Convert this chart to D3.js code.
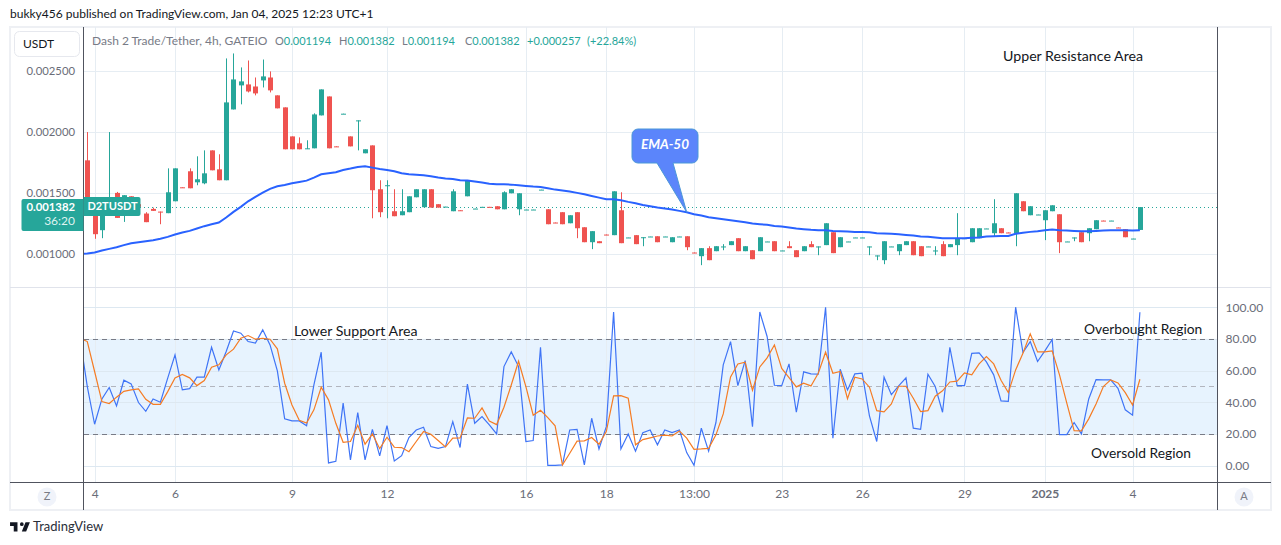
<!DOCTYPE html>
<html>
<head>
<meta charset="utf-8">
<script src="https://cdn.jsdelivr.net/npm/d3@7"></script>
<style>
  body { margin: 0; background: #fff; }
  svg { display: block; font-family: Lato, sans-serif; }
  .axis .domain, .axis line { display: none; }
  .axis text { fill: #6a6d78; font-size: 12px; font-family: Lato, sans-serif; }
</style>
</head>
<body>
<div id="chart"></div>
<script>
// prices are in millionths of a USDT (1382 = 0.001382)
var candleOpen = [
  1767,1452,1192,1370,1499,1384,1471,1406,1329,1367,
  1345,1332,1430,1545,1677,1586,1578,1849,1693,1603,
  2186,2384,2392,2375,2425,2449,2302,2203,1964,1907,
  1860,1866,2137,2293,1882,2148,1964,2091,1825,1890,
  1529,1560,1348,1315,1340,1463,1381,1529,1406,1384,
  1348,1356,1471,1368,1382,1384,1389,1364,1496,1364,
  1360,1360,1524,1364,1255,1340,1249,1340,1216,1093,
  1101,1156,1151,1356,1130,1151,1132,1138,1142,1138,
  1093,1138,1142,1008,978,1044,1019,1056,1069,1126,
  1019,1027,1019,1097,1101,1023,1060,1027,1019,1077,
  1056,1069,1175,1052,1097,1130,1130,1056,982,945,
  1056,1019,1069,1101,1060,1056,1023,1077,1052,1069,
  1124,1093,1126,1204,1167,1208,1173,1167,1430,1315,
  1319,1274,1348,1323,1097,1130,1175,1167,1200,1271,
  1269,1214,1200,1121,1194];
var candleHigh = [
  2000,1452,1411,2000,1507,1480,1471,1406,1340,1378,
  1345,1701,1701,1545,1701,1800,1849,1849,1817,2606,
  2647,2532,2589,2449,2597,2499,2302,2203,1964,1956,
  1932,2154,2351,2293,1882,2151,1964,2096,1858,1890,
  1603,1603,1529,1529,1471,1529,1529,1529,1406,1386,
  1529,1356,1603,1370,1384,1384,1389,1512,1529,1496,
  1362,1362,1526,1364,1255,1340,1315,1340,1216,1184,
  1101,1156,1512,1504,1132,1151,1134,1140,1142,1140,
  1134,1140,1142,1008,1044,1060,1060,1077,1101,1126,
  1060,1027,1134,1099,1101,1025,1101,1027,1060,1101,
  1058,1249,1175,1134,1099,1132,1132,1058,984,1101,
  1058,1077,1101,1101,1060,1058,1060,1101,1077,1332,
  1126,1208,1208,1206,1447,1208,1173,1496,1430,1389,
  1321,1356,1397,1323,1099,1132,1175,1208,1274,1271,
  1271,1214,1200,1123,1382];
var candleLow = [
  1411,1121,1126,1370,1293,1260,1438,1384,1258,1351,
  1241,1332,1430,1540,1537,1562,1570,1685,1603,1603,
  2186,2228,2326,2302,2367,2326,2195,1858,1858,1858,
  1860,1866,2137,1866,1877,2148,1882,1849,1825,1290,
  1299,1290,1307,1315,1340,1463,1381,1378,1378,1384,
  1348,1351,1471,1368,1382,1380,1364,1364,1496,1315,
  1360,1360,1524,1241,1250,1241,1249,1126,1093,1036,
  1085,1151,1151,1085,1130,1077,1060,1138,1093,1138,
  1093,1138,1027,1003,904,945,1019,1027,1069,1019,
  1019,953,1019,1097,1019,1023,1044,970,1019,1052,
  986,1069,1003,1052,1097,1130,1130,986,945,912,
  1056,986,1069,986,978,1056,986,978,1052,986,
  1124,1093,1126,1204,1137,1167,1168,1060,1348,1315,
  1319,1110,1348,1003,1097,1101,1093,1101,1200,1267,
  1269,1210,1134,1121,1194];
var candleClose = [
  1452,1159,1411,1438,1293,1480,1438,1384,1258,1351,
  1340,1504,1701,1540,1537,1611,1660,1685,1603,2244,
  2433,2417,2334,2318,2458,2343,2195,1858,1858,1858,
  1866,2145,2351,1866,1877,2151,1882,2096,1858,1521,
  1340,1562,1307,1348,1471,1529,1529,1378,1378,1386,
  1512,1351,1603,1370,1384,1380,1364,1504,1529,1496,
  1362,1362,1526,1241,1250,1241,1315,1208,1093,1184,
  1085,1151,1512,1085,1132,1077,1134,1140,1093,1140,
  1134,1140,1052,1003,1044,945,1060,1058,1101,1019,
  1060,953,1134,1099,1019,1025,1044,970,1060,1052,
  1058,1249,1003,1134,1099,1132,1132,1058,984,1101,
  1058,1077,1101,986,978,1058,1025,978,1077,1126,
  1126,1208,1208,1206,1249,1167,1168,1496,1348,1389,
  1321,1356,1397,1093,1099,1132,1093,1208,1274,1267,
  1271,1210,1134,1123,1382];

// these three start one bar before the first visible candle
var ema50 = [995,
  1000,1008,1025,1038,1052,1069,1085,1093,1101,1110,
  1121,1137,1156,1173,1186,1206,1225,1241,1255,1296,
  1343,1384,1430,1466,1501,1532,1553,1564,1578,1589,
  1600,1625,1652,1660,1669,1688,1699,1712,1718,1707,
  1696,1688,1677,1660,1652,1649,1644,1636,1625,1617,
  1614,1603,1600,1592,1584,1575,1570,1570,1567,1562,
  1556,1551,1548,1537,1526,1518,1510,1499,1488,1474,
  1460,1447,1447,1438,1425,1414,1400,1389,1378,1370,
  1362,1351,1340,1323,1312,1299,1290,1282,1274,1266,
  1258,1247,1241,1236,1227,1222,1214,1206,1200,1195,
  1192,1192,1186,1184,1181,1178,1178,1175,1167,1164,
  1162,1159,1153,1148,1140,1137,1132,1126,1126,1126,
  1126,1129,1132,1140,1142,1145,1145,1162,1170,1178,
  1184,1192,1197,1192,1189,1186,1184,1184,1186,1189,
  1192,1192,1192,1189,1192];
var rsi = [80.4,
  49.9,26.1,42.1,49.3,37.7,53.9,51.6,39.8,34.3,42.1,
  40,55.2,69.9,47.8,48.6,55.8,55.8,74.7,60.4,72,
  85,83.6,78.3,77.3,85.7,76.2,59.8,29.5,28.2,28.2,
  25.1,50.9,71.6,1.7,2.7,39.4,3.6,33.5,3.6,22.9,
  6.1,25.3,2.9,6.3,17.7,22.5,24.2,12,10.9,12,
  27.8,11.4,51.4,26.7,31,25.7,20,62.5,71.8,62.5,
  15.2,15.8,74.7,0.2,0.2,0.4,22.5,22.9,0.4,29.9,
  10.5,24.6,97,10.5,20,9.1,20.8,22.5,13.1,22.5,
  20.8,22.5,8.2,0.2,23.6,9.1,27.2,63.6,78.3,50.5,
  66.3,24.6,97,81.5,50.7,50.5,64.2,33.7,59.2,57.9,
  57.7,100,17.3,60.8,47.8,57.9,58.3,31.4,15.2,55.8,
  44.8,50.3,55.4,23.6,22.9,57.7,49.9,33.7,74.7,50.5,
  50.5,70.9,71.2,65.5,57.3,40.8,40.6,100,71.4,78.3,
  65.7,72.4,79.6,19.6,19.6,27.2,20,42.1,54.3,54.1,
  54.1,48.8,35.2,31.8,96.8];
var rsiMa = [80.4,
  78.3,59.4,40.4,39.2,43.2,46.9,47.8,48.4,41.9,38.7,
  38.7,46.7,55.4,57.5,55.4,50.5,53.7,62.1,63.6,69.9,
  73.5,80.4,82.1,79.8,80.4,79.8,73.7,52,38.3,28.6,
  26.9,35.2,49.5,41.5,26.7,14.7,15.2,25.5,13.5,20,
  10.7,17.9,11.6,11.4,8.8,15.2,21.5,19.8,15.8,11.8,
  17.3,17.5,30.1,29.9,36.4,28.2,25.9,36.8,50.9,65.9,
  49.9,31.8,34.9,30.3,25.1,0.4,7.8,15.4,15.6,17.7,
  13.5,21.5,44,44.2,42.5,13.1,16.4,17.5,18.7,19.2,
  18.7,21.9,17.3,10.3,10.5,10.9,19.4,32.6,56,64.2,
  65.3,47.6,62.3,68,76.2,61.3,55.6,49.7,52,50.3,
  58.3,71.6,58.3,59.4,42.3,55.8,54.7,49.5,34.7,33.9,
  38.9,50.1,50.1,42.5,34.1,34.7,43.8,47.2,52.8,53.3,
  58.5,57.3,64.2,68.8,64.2,53.9,46.1,60.4,70.9,83.2,
  71.8,71.8,72.4,57.3,39.4,22.1,21.9,29.5,38.9,49.9,
  54.1,52.2,46.1,38.3,54.5];

// bar index of each time label
var timeTicks = [1,12,28,41,60,71,83,95,106,120,131,143];
var timeLabels = ["4","6","9","12","16","18","13:00","23","26","29","2025","4"];
var priceTicks = [1000,1500,2000,2500];
var rsiTicks = [0,20,40,60,80,100];
var rsiLevels = [20,50,80];
var lastPrice = 1382;

var up = "#26a69a", down = "#ef5350", grid = "#e6edf3", dark = "#50535e";
var w = 1281, h = 545;
var left = 83.5, right = 1217.5;

var svg = d3.select("#chart").append("svg").attr("width", w).attr("height", h);

var x = d3.scaleLinear().domain([0, 144]).range([87.3, 1139.9]);
var y = d3.scaleLinear().domain([1000, 2500]).range([253.5, 71.3]);
var yRsi = d3.scaleLinear().domain([0, 100]).range([465.6, 307.2]);

function text(str, tx, ty, size, fill, anchor) {
  return svg.append("text").attr("x", tx).attr("y", ty).attr("font-size", size)
    .attr("fill", fill).attr("text-anchor", anchor || "start")
    .attr("dominant-baseline", "middle").text(str);
}
function hline(g, yy, color, x1, x2) {
  return g.append("line").attr("x1", x1 === undefined ? left : x1).attr("x2", x2 === undefined ? right : x2)
    .attr("y1", yy).attr("y2", yy).attr("stroke", color);
}

svg.append("defs").append("clipPath").attr("id", "pane")
  .append("rect").attr("x", left).attr("y", 27).attr("width", right - left).attr("height", 455);

// title and frame
text("bukky456 published on TradingView.com, Jan 04, 2025 12:23 UTC+1", 10, 15, 12, "#131722");
svg.append("rect").attr("x", 10).attr("y", 27).attr("width", 1261).attr("height", 483)
  .attr("fill", "none").attr("stroke", "#eef0f4").attr("stroke-width", 2);

// grid
var gridG = svg.append("g");
gridG.selectAll(".v").data(timeTicks).enter().append("line")
  .attr("x1", function(d) { return Math.round(x(d)) + 0.5; })
  .attr("x2", function(d) { return Math.round(x(d)) + 0.5; })
  .attr("y1", 27).attr("y2", 482).attr("stroke", grid);
priceTicks.forEach(function(d) { hline(gridG, Math.round(y(d)) + 0.5, grid); });

// rsi band
svg.append("rect").attr("x", left).attr("width", right - left)
  .attr("y", yRsi(80)).attr("height", yRsi(20) - yRsi(80)).attr("fill", "#2196f3").attr("fill-opacity", 0.11);
rsiTicks.forEach(function(d) { hline(gridG, Math.round(yRsi(d)) + 0.5, "#dde8f1"); });
gridG.raise();
rsiLevels.forEach(function(d) {
  hline(svg, Math.round(yRsi(d)) + 0.5, d == 50 ? "#b2b5be" : "#787b86", 84, 1217).attr("stroke-dasharray", "5,4");
});

// last price line
hline(svg, Math.round(y(lastPrice)) + 0.5, up, 84, 1217).attr("stroke-dasharray", "1,3");

// candles
var candles = d3.range(candleOpen.length);
var marks = svg.append("g").attr("clip-path", "url(#pane)");
marks.selectAll(".wick").data(candles).enter().append("line")
  .attr("x1", function(i) { return Math.round(x(i)) + 0.5; })
  .attr("x2", function(i) { return Math.round(x(i)) + 0.5; })
  .attr("y1", function(i) { return y(candleHigh[i]); })
  .attr("y2", function(i) { return y(candleLow[i]); })
  .attr("stroke", function(i) { return candleClose[i] >= candleOpen[i] ? up : down; });
marks.selectAll(".body").data(candles).enter().append("rect")
  .attr("x", function(i) { return Math.round(x(i)) - 2; })
  .attr("width", 5)
  .attr("y", function(i) { return y(Math.max(candleOpen[i], candleClose[i])); })
  .attr("height", function(i) { return Math.max(1, Math.abs(y(candleOpen[i]) - y(candleClose[i]))); })
  .attr("fill", function(i) { return candleClose[i] >= candleOpen[i] ? up : down; });

// lines, index 0 of each array sits one bar left of the first candle
function lineFor(scale) {
  return d3.line().x(function(d, i) { return x(i - 1); }).y(function(d) { return scale(d); });
}
marks.append("path").datum(ema50).attr("d", lineFor(y)).attr("fill", "none")
  .attr("stroke", "#2962ff").attr("stroke-width", 2);
marks.append("path").datum(rsi).attr("d", lineFor(yRsi)).attr("fill", "none")
  .attr("stroke", "#3f74f6").attr("stroke-width", 1.2);
marks.append("path").datum(rsiMa).attr("d", lineFor(yRsi)).attr("fill", "none")
  .attr("stroke", "#f57c24").attr("stroke-width", 1.2);

// pane borders
hline(svg, 287.5, "#e0e3eb", 10, 1271);
hline(svg, 482.5, dark, 10, 1271);
[left, right].forEach(function(d) {
  svg.append("line").attr("x1", d).attr("x2", d).attr("y1", 27).attr("y2", 510).attr("stroke", dark);
});

// axes
var priceAxis = svg.append("g").attr("class", "axis").attr("transform", "translate(" + left + ",0)")
  .call(d3.axisLeft(y).tickValues(priceTicks).tickSize(0).tickPadding(8.5)
    .tickFormat(function(d) { return (d / 1e6).toFixed(6); }));
priceAxis.selectAll("text").style("font-size", "11.3px");
svg.append("g").attr("class", "axis").attr("transform", "translate(" + right + ",0)")
  .call(d3.axisRight(yRsi).tickValues(rsiTicks).tickSize(0).tickPadding(8)
    .tickFormat(function(d) { return d.toFixed(2); }));
var timeAxis = svg.append("g").attr("class", "axis").attr("transform", "translate(0,482)")
  .call(d3.axisBottom(x).tickValues(timeTicks).tickSize(0).tickPadding(7)
    .tickFormat(function(d, i) { return timeLabels[i]; }));
timeAxis.selectAll("text").attr("font-weight", function(d, i) { return timeLabels[i] == "2025" ? 700 : 400; });

// currency button
svg.append("rect").attr("x", 14.5).attr("y", 31.5).attr("width", 65).attr("height", 25).attr("rx", 5)
  .attr("fill", "#fff").attr("stroke", "#e6e8ee");
text("USDT", 23, 44.5, 12, "#131722");

// legend
text("Dash 2 Trade/Tether, 4h, GATEIO", 92, 42, 12, "#787b86");
var legendNames = ["O", "H", "L", "C"];
var legendValues = ["0.001194", "0.001382", "0.001194", "0.001382"];
var legendX = [275, 339, 402, 465];
legendNames.forEach(function(n, i) {
  var t = text(n, legendX[i], 42, 11, "#787b86");
  t.append("tspan").attr("fill", up).text(legendValues[i]);
});
text("+0.000257", 527, 42, 11, up);
text("(+22.84%)", 587, 42, 11, up);

// price labels
var ly = y(lastPrice);
svg.append("path")
  .attr("d", "M" + (left + 57) + "," + (ly - 8) + "v15a2,2 0 0 1 -2,2h-55v-19h55a2,2 0 0 1 2,2z")
  .attr("fill", up);
svg.append("path")
  .attr("d", "M" + left + "," + (ly - 8) + "h-60a2,2 0 0 0 -2,2v28a2,2 0 0 0 2,2h60z")
  .attr("fill", up);
text("0.001382", 75, ly + 0.5, 11.3, "#fff", "end").attr("font-weight", 700);
text("36:20", 75, ly + 15, 12, "#dff3f0", "end");
text("D2TUSDT", left + 29, ly + 0.5, 11, "#fff", "middle").attr("font-weight", 700);

// drawn notes
text("Upper Resistance Area", 1003, 57, 14.2, "#131722");
text("Lower Support Area", 294, 332.5, 14.2, "#131722");
text("Overbought Region", 1084, 330.5, 13.8, "#131722");
text("Oversold Region", 1091, 454.5, 13.8, "#131722");

// EMA callout, tail points at the line
var tipX = x(82), tipY = y(ema50[83]);
svg.append("path")
  .attr("d", "M638,129h54a6,6 0 0 1 6,6v22a6,6 0 0 1 -6,6h-19L" + tipX + "," + tipY + "L657,163h-19a6,6 0 0 1 -6,-6v-22a6,6 0 0 1 6,-6z")
  .attr("fill", "#5b85fb").attr("stroke", "#4b97d8");
text("EMA-50", 665, 146, 13.5, "#fff", "middle").attr("font-style", "italic").attr("font-weight", 700);

// corner buttons
[[47, "Z"], [1244, "A"]].forEach(function(b) {
  svg.append("circle").attr("cx", b[0]).attr("cy", 497).attr("r", 9.5).attr("fill", "#f0f3fa");
  text(b[1], b[0], 497.5, 11, "#787b86", "middle");
});

// logo
svg.append("path").attr("transform", "translate(8.8,518.6) scale(0.62)")
  .attr("d", "M14 6H2v6h6v9h6V6zm14 15h-7l6-15h7l-6 15zm-7-9a3 3 0 1 0 0-6 3 3 0 0 0 0 6z").attr("fill", "#131722");
text("TradingView", 33, 527.5, 13, "#2a2e39");
</script>
</body>
</html>
